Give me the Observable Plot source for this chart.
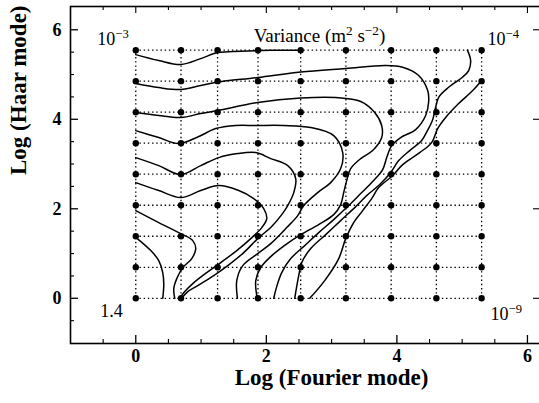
<!DOCTYPE html>
<html>
<head>
<meta charset="utf-8">
<script src="https://cdn.jsdelivr.net/npm/d3@7"></script>
<script src="https://cdn.jsdelivr.net/npm/@observablehq/plot@0.6"></script>
<style>
  html, body { margin: 0; padding: 0; background: #fff; }
  #chart { width: 539px; height: 403px; overflow: hidden; }
</style>
</head>
<body>
<div id="chart"></div>
<script>
// Grid of analysed modes (natural log of mode number)
const fourierLog = [0, 0.693, 1.253, 1.872, 2.526, 3.219, 3.912, 4.605, 5.298];
const haarLog = [0, 0.693, 1.386, 2.079, 2.773, 3.466, 4.159, 4.852, 5.545];

// Axis ticks
const xMajor = [0, 2, 4, 6];
const yMajor = [0, 2, 4, 6];
const xMinor = [-0.5, 0.5, 1, 1.5, 2.5, 3, 3.5, 4.5, 5, 5.5];
const yMinor = [-0.5, 0.5, 1, 1.5, 2.5, 3, 3.5, 4.5, 5, 5.5];

// Corner values of the variance field
const cornerLabels = ["10^{−3}", "10^{−4}", "1.4", "10^{−9}"];
const titleText = "Variance (m^{2} s^{−2})";

// Variance contour lines, [log Fourier mode, log Haar mode]
const contour1 = [[0,5.445],[0.352,5.312],[0.689,5.223],[0.995,5.356],[1.256,5.49],[1.608,5.52],[2.067,5.54],[2.527,5.545]];
const contour2 = [[0,4.798],[0.352,4.708],[0.689,4.664],[0.995,4.753],[1.256,4.831],[1.868,4.932],[2.527,5.055],[3.216,5.134],[3.828,5.201],[4.089,5.162],[4.334,4.977],[4.472,4.641],[4.487,4.396],[4.441,4.083],[4.288,3.770],[4.058,3.591],[3.920,3.412],[3.844,3.144],[3.782,2.876],[3.629,2.608],[3.446,2.340],[3.262,2.072],[3.032,1.759],[2.802,1.468],[2.588,1.178],[2.374,0.887],[2.236,0.574],[2.159,0.261],[2.113,0]];
const contour3 = [[0,4.150],[0.352,4.083],[0.689,4.040],[0.995,4.127],[1.256,4.194],[1.868,4.373],[2.527,4.474],[3.063,4.485],[3.446,4.396],[3.660,4.150],[3.767,3.861],[3.767,3.591],[3.629,3.301],[3.446,3.122],[3.292,2.898],[3.231,2.630],[3.185,2.362],[3.139,2.094],[3.032,1.870],[2.802,1.647],[2.527,1.423],[2.297,1.200],[2.067,0.932],[1.914,0.686],[1.838,0.396],[1.861,0]];
const contour4 = [[0,3.747],[0.352,3.591],[0.658,3.457],[0.965,3.614],[1.225,3.792],[1.531,3.861],[1.838,3.861],[2.266,3.861],[2.680,3.817],[3.032,3.636],[3.170,3.256],[3.139,2.898],[2.986,2.585],[2.787,2.362],[2.573,2.072],[2.481,1.848],[2.312,1.580],[2.067,1.222],[1.868,0.999],[1.639,0.731],[1.547,0.396],[1.557,0]];
const contour5 = [[0,3.144],[0.352,2.965],[0.689,2.764],[0.995,2.965],[1.271,3.144],[1.562,3.233],[1.838,3.256],[2.067,3.122],[2.328,2.965],[2.450,2.675],[2.420,2.362],[2.328,2.072],[2.236,1.870],[2.067,1.580],[1.884,1.356],[1.654,1.021],[1.409,0.731],[1.194,0.507],[0.949,0.284],[0.796,0.150],[0.704,0]];
const contour6 = [[0,2.585],[0.352,2.407],[0.689,2.250],[0.995,2.407],[1.271,2.518],[1.577,2.407],[1.807,2.228],[1.960,2.005],[2.006,1.781],[1.930,1.580],[1.761,1.334],[1.547,1.066],[1.302,0.798],[1.087,0.574],[0.873,0.328],[0.750,0.150],[0.674,0]];
const contour7 = [[0,1.960],[0.352,1.692],[0.689,1.446],[0.873,1.289],[0.919,1.111],[0.858,0.887],[0.720,0.686],[0.628,0.440],[0.582,0.217],[0.597,0]];
const contour8 = [[0,1.363],[0.230,1.066],[0.352,0.843],[0.413,0.574],[0.429,0.306],[0.413,0]];
const contour9 = [[5.080,5.545],[5.130,5.312],[5.100,5.089],[5.003,4.939],[4.793,4.715],[4.640,4.492],[4.594,4.268],[4.544,3.971],[4.467,3.747],[4.380,3.524],[4.196,3.301],[4.028,3.077],[3.905,2.809],[3.737,2.541],[3.537,2.295],[3.369,2.049],[3.139,1.736],[2.910,1.423],[2.680,1.111],[2.542,0.798],[2.496,0.507],[2.465,0.261],[2.435,0]];
const contour10 = [[5.299,4.866],[5.161,4.641],[4.946,4.351],[4.747,4.040],[4.625,3.792],[4.533,3.479],[4.349,3.256],[4.089,2.988],[3.936,2.742],[3.721,2.474],[3.614,2.228],[3.476,1.960],[3.338,1.692],[3.216,1.334],[3.109,0.887],[2.894,0.396],[2.665,0]];

const contours = [contour1, contour2, contour3, contour4, contour5, contour6, contour7, contour8, contour9, contour10];
const contourPoints = contours.flatMap((c, i) => c.map(([x, y]) => ({x, y, level: i})));
const gridPoints = haarLog.flatMap(y => fourierLog.map(x => ({x, y})));

const serif = "'Liberation Serif', 'Times New Roman', serif";
const W = 539, H = 403;
// the right edge of the frame sits just past the page edge
const mL = 70, mR = -1, mT = 6, mB = 60;
const fw = W - mL - mR, fh = H - mT - mB;

const lastCol = fourierLog.length - 1;
const topRow = haarLog.length - 1;

const chart = Plot.plot({
  width: W,
  height: H,
  marginLeft: mL,
  marginRight: mR,
  marginTop: mT,
  marginBottom: mB,
  x: {domain: [-1, 6.2], axis: null},
  y: {domain: [-1.01, 6.52], axis: null},
  style: {fontFamily: serif, background: "white", color: "black"},
  marks: [
    // dotted mesh through the analysed modes
    Plot.ruleX(fourierLog, {x: d => d, y1: haarLog[0], y2: haarLog[topRow], stroke: "black", strokeWidth: 1.3, strokeDasharray: "1.4,2.8"}),
    Plot.ruleY(haarLog, {y: d => d, x1: fourierLog[0], x2: fourierLog[lastCol], stroke: "black", strokeWidth: 1.3, strokeDasharray: "1.4,2.8"}),
    // contours
    Plot.line(contourPoints, {x: "x", y: "y", z: "level", curve: "catmull-rom", stroke: "black", strokeWidth: 1.5}),
    // mode nodes
    Plot.dot(gridPoints, {x: "x", y: "y", r: 3.2, fill: "black", stroke: "none"}),
    // frame and inward ticks
    Plot.frame({stroke: "black", strokeWidth: 1.6}),
    Plot.ruleX(xMajor, {x: d => d, insetTop: fh - 8, stroke: "black", strokeWidth: 1.3}),
    Plot.ruleX(xMinor, {x: d => d, insetTop: fh - 4, stroke: "black", strokeWidth: 1.1}),
    Plot.ruleX(xMajor, {x: d => d, insetBottom: fh - 7, stroke: "black", strokeWidth: 1.1}),
    Plot.ruleX(xMinor, {x: d => d, insetBottom: fh - 4, stroke: "black", strokeWidth: 1.1}),
    Plot.ruleY(yMajor, {y: d => d, insetRight: fw - 8, stroke: "black", strokeWidth: 1.3}),
    Plot.ruleY(yMinor, {y: d => d, insetRight: fw - 4, stroke: "black", strokeWidth: 1.1}),
    Plot.ruleY(yMajor, {y: d => d, insetLeft: fw - 7, stroke: "black", strokeWidth: 1.1}),
    // tick labels
    Plot.text(xMajor, {x: d => d, frameAnchor: "bottom", dy: 18, text: d => String(d), fontSize: 18, fontWeight: "bold", fill: "black"}),
    Plot.text(yMajor, {y: d => d, frameAnchor: "left", dx: -9, textAnchor: "end", text: d => String(d), fontSize: 18, fontWeight: "bold", fill: "black"}),
    // axis titles
    Plot.text(["Log (Fourier mode)"], {frameAnchor: "bottom", dx: 26, dy: 41, fontSize: 23, fontWeight: "bold", fill: "black"}),
    Plot.text(["Log (Haar mode)"], {frameAnchor: "left", dx: -52, rotate: -90, fontSize: 23, fontWeight: "bold", fill: "black"}),
    // title inside the frame
    Plot.text([titleText], {frameAnchor: "top", dx: 14, dy: 22, fontSize: 19, fill: "black"}),
    // corner values
    Plot.text([cornerLabels[0]], {x: fourierLog[0], y: haarLog[topRow], dx: -7, dy: -11, textAnchor: "end", fontSize: 18, fill: "black"}),
    Plot.text([cornerLabels[1]], {x: fourierLog[lastCol], y: haarLog[topRow], dx: 6, dy: -11, textAnchor: "start", fontSize: 18, fill: "black"}),
    Plot.text([cornerLabels[2]], {x: fourierLog[0], y: haarLog[0], dx: -13, dy: 13, textAnchor: "end", fontSize: 18, fill: "black"}),
    Plot.text([cornerLabels[3]], {x: fourierLog[lastCol], y: haarLog[0], dx: 9, dy: 16, textAnchor: "start", fontSize: 18, fill: "black"})
  ]
});

// turn ^{...} markup into raised tspans
const SVGNS = "http://www.w3.org/2000/svg";
chart.querySelectorAll("text").forEach(t => {
  const s = t.textContent;
  if (!s.includes("^{")) return;
  while (t.firstChild) t.removeChild(t.firstChild);
  const parts = s.split(/(\^\{[^}]*\})/).filter(p => p);
  let raised = false;
  for (const p of parts) {
    const ts = document.createElementNS(SVGNS, "tspan");
    if (p.startsWith("^{")) {
      ts.textContent = p.slice(2, -1);
      ts.setAttribute("font-size", "70%");
      ts.setAttribute("dy", "-0.55em");
      raised = true;
    } else {
      ts.textContent = p;
      if (raised) { ts.setAttribute("dy", "0.385em"); raised = false; }
    }
    t.appendChild(ts);
  }
});

document.getElementById("chart").appendChild(chart);
</script>
</body>
</html>
